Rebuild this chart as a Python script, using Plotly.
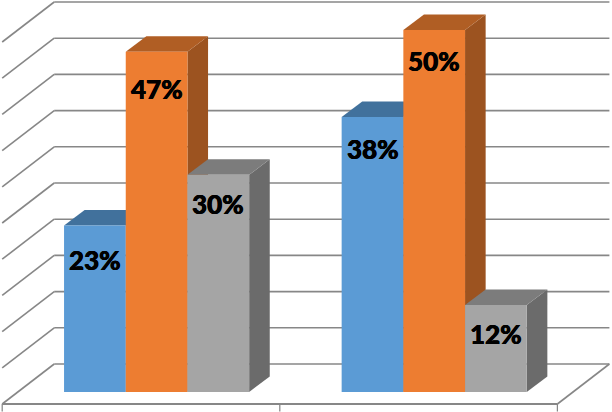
import plotly.graph_objects as go

# Data
group_positions = [0, 1]
series_names = ["Series 1", "Series 2", "Series 3"]
series_1 = [23, 38]
series_2 = [47, 50]
series_3 = [30, 12]
grid_values = [0, 5, 10, 15, 20, 25, 30, 35, 40, 45, 50]
value_labels_1 = ["23%", "38%"]
value_labels_2 = ["47%", "50%"]
value_labels_3 = ["30%", "12%"]

# Layout scale (pixels per data unit)
W, H = 612, 412
PX_X = 277.6
PX_Y = 7.24
X0_PX = 156.6
Y0_PX = 392.0
BAR_PX = 61.7

# Oblique projection offsets, pixels converted to data units
BAR_DX, BAR_DY = 20.6 / PX_X, 15.5 / PX_Y
WALL_DX, WALL_DY = 36.4 / PX_X, 28.0 / PX_Y
FRONT_DX, FRONT_DY = 15.6 / PX_X, 12.0 / PX_Y
bar_w = BAR_PX / PX_X

colors = ["#5B9BD5", "#ED7D31", "#A5A5A5"]
top_colors = ["#41719C", "#B05E24", "#7C7C7C"]
side_colors = ["#3A648A", "#9C5320", "#6B6B6B"]
GRID = "#878787"

all_series = [series_1, series_2, series_3]
all_labels = [value_labels_1, value_labels_2, value_labels_3]
label_drop_px = [[35, 32], [37, 31], [29, 29]]

x_left = group_positions[0] - 0.5
x_right = group_positions[-1] + 0.5


def line(x0, y0, x1, y1, width=1.6, color=GRID):
    return dict(type="line", xref="x", yref="y", x0=x0, y0=y0, x1=x1, y1=y1,
                layer="below", line=dict(color=color, width=width))


def poly(points, color):
    d = "M " + " L ".join(f"{x:.5f} {y:.4f}" for x, y in points) + " Z"
    return dict(type="path", xref="x", yref="y", path=d, layer="below",
                fillcolor=color, line=dict(width=0))


shapes = []
# Back wall and left wall grid lines
for v in grid_values:
    wall_y = v + WALL_DY
    wall_x = x_left + WALL_DX
    shapes.append(line(x_left - FRONT_DX, v - FRONT_DY, wall_x, wall_y))
    shapes.append(line(wall_x, wall_y, x_right + WALL_DX, wall_y))
# Floor right edge
shapes.append(line(x_right - FRONT_DX, -FRONT_DY, x_right + WALL_DX, WALL_DY))
# Front axis and ticks
shapes.append(line(x_left - FRONT_DX, -FRONT_DY, x_right - FRONT_DX, -FRONT_DY, 2))
tick_bottom = -FRONT_DY - 7.5 / PX_Y
for tx in (x_left, x_left + 1, x_right):
    shapes.append(line(tx - FRONT_DX, -FRONT_DY, tx - FRONT_DX, tick_bottom, 1.25))

# Bar side and top faces, drawn back to front from left to right
for g, gx in enumerate(group_positions):
    for s, vals in enumerate(all_series):
        v = vals[g]
        left = gx + (s - 1.5) * bar_w
        right = left + bar_w
        shapes.append(poly([(right, 0), (right + BAR_DX, BAR_DY),
                            (right + BAR_DX, v + BAR_DY), (right, v)], side_colors[s]))
        shapes.append(poly([(left, v), (left + BAR_DX, v + BAR_DY),
                            (right + BAR_DX, v + BAR_DY), (right, v)], top_colors[s]))

fig = go.Figure()
for s, vals in enumerate(all_series):
    fig.add_trace(go.Bar(x=group_positions, y=vals, name=series_names[s],
                         marker=dict(color=colors[s], line=dict(width=0)),
                         width=bar_w, offset=(s - 1.5) * bar_w, hoverinfo="skip"))

annotations = []
for s, vals in enumerate(all_series):
    for g, gx in enumerate(group_positions):
        annotations.append(dict(
            x=gx + (s - 1) * bar_w, y=vals[g], xref="x", yref="y",
            text=all_labels[s][g], showarrow=False, xanchor="center", yanchor="middle",
            yshift=-label_drop_px[s][g],
            font=dict(family="Lato", size=26, color="#000000", weight=900,
                      shadow="0.3px 0 0 #000, -0.3px 0 0 #000")))

fig.update_layout(
    width=W, height=H, margin=dict(l=0, r=0, t=0, b=0, pad=0),
    paper_bgcolor="white", plot_bgcolor="white", showlegend=False,
    barmode="overlay",
    shapes=shapes, annotations=annotations,
    xaxis=dict(visible=False, range=[-X0_PX / PX_X, (W - X0_PX) / PX_X]),
    yaxis=dict(visible=False, range=[-(H - Y0_PX) / PX_Y, Y0_PX / PX_Y]),
)

fig.write_html("out.html", config={"displayModeBar": False},
               post_script="document.body.style.margin='0';document.body.style.overflow='hidden';")
